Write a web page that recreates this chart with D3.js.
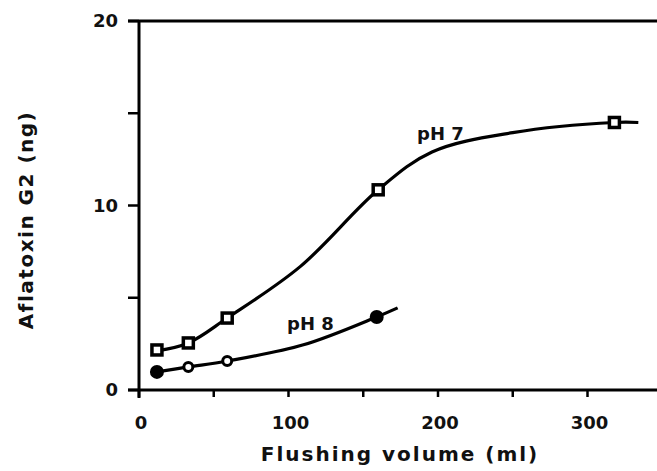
<!DOCTYPE html>
<html><head><meta charset="utf-8">
<script src="https://cdn.jsdelivr.net/npm/d3@7"></script>
<style>body{margin:0;background:#fff}svg{display:block}text{font-family:"DejaVu Sans",sans-serif;font-weight:bold;fill:#111}</style>
</head><body><svg id="c" width="657" height="471"></svg>
<script>
// measured points
const ph7X = [12, 33, 59, 160, 318];
const ph7Y = [2.17, 2.55, 3.9, 10.85, 14.5];
const ph8X = [12, 33, 59, 159];
const ph8Y = [0.98, 1.25, 1.57, 3.96];
const ph8Filled = [true, false, false, true];
// fitted curves
const ph7CurveX = [12, 33, 59, 108, 160, 196, 250, 318, 334];
const ph7CurveY = [2.12, 2.55, 3.9, 6.7, 10.85, 12.9, 13.95, 14.5, 14.5];
const ph8CurveX = [12, 33, 59, 110, 159, 173];
const ph8CurveY = [0.98, 1.25, 1.57, 2.45, 3.96, 4.45];
const xTicks = [0, 100, 200, 300];
const xMinor = [50, 150, 250];
const yTicks = [0, 10, 20];
const yMinor = [5, 15];

const svg = d3.select("#c");
const x = d3.scaleLinear().domain([0, 100]).range([139, 288.5]);
const y = d3.scaleLinear().domain([0, 20]).range([390, 21]);
const xEnd = 657;

const g = svg.append("g");
g.append("line").attr("x1", 128).attr("x2", xEnd).attr("y1", y(0)).attr("y2", y(0)).attr("stroke", "#000").attr("stroke-width", 3);
g.append("line").attr("x1", 128).attr("x2", xEnd).attr("y1", y(20)).attr("y2", y(20)).attr("stroke", "#000").attr("stroke-width", 3);
g.append("line").attr("x1", x(0)).attr("x2", x(0)).attr("y1", y(20)).attr("y2", y(0) + 8).attr("stroke", "#000").attr("stroke-width", 3);

yTicks.concat(yMinor).forEach(v => {
  g.append("line").attr("x1", 128).attr("x2", x(0)).attr("y1", y(v)).attr("y2", y(v)).attr("stroke", "#000").attr("stroke-width", 2.5);
});
g.selectAll(".yl").data(yTicks).join("text").attr("x", 118).attr("y", d => y(d)).attr("dy", "0.36em")
  .attr("text-anchor", "end").attr("font-size", 18).text(d => d);
xTicks.concat(xMinor).forEach(v => {
  g.append("line").attr("x1", x(v)).attr("x2", x(v)).attr("y1", y(0)).attr("y2", y(0) + 7).attr("stroke", "#000").attr("stroke-width", 2.5);
});
g.selectAll(".xl").data(xTicks).join("text").attr("x", d => x(d) + 2).attr("y", 429)
  .attr("text-anchor", "middle").attr("font-size", 18).text(d => d);

svg.append("text").attr("x", 400).attr("y", 461).attr("text-anchor", "middle").attr("font-size", 20)
  .attr("letter-spacing", 2).text("Flushing volume (ml)");
svg.append("text").attr("transform", "translate(33,220) rotate(-90)").attr("text-anchor", "middle")
  .attr("font-size", 20).attr("letter-spacing", 1.5).text("Aflatoxin G2 (ng)");

const line = d3.line().x(d => x(d[0])).y(d => y(d[1])).curve(d3.curveCatmullRom.alpha(0.5));
svg.append("path").datum(d3.zip(ph7CurveX, ph7CurveY)).attr("d", line).attr("fill", "none").attr("stroke", "#000").attr("stroke-width", 3.2);
svg.append("path").datum(d3.zip(ph8CurveX, ph8CurveY)).attr("d", line).attr("fill", "none").attr("stroke", "#000").attr("stroke-width", 3.2);

svg.selectAll(".sq").data(d3.zip(ph7X, ph7Y)).join("rect")
  .attr("x", d => x(d[0]) - 5).attr("y", d => y(d[1]) - 5).attr("width", 10).attr("height", 10)
  .attr("fill", "#fff").attr("stroke", "#000").attr("stroke-width", 3.5);
svg.selectAll(".ci").data(d3.zip(ph8X, ph8Y, ph8Filled)).join("circle")
  .attr("cx", d => x(d[0])).attr("cy", d => y(d[1])).attr("r", d => d[2] ? 5.5 : 4.5)
  .attr("fill", d => d[2] ? "#000" : "#fff").attr("stroke", "#000").attr("stroke-width", 3);

svg.append("text").attr("x", 417).attr("y", 140).attr("font-size", 18).text("pH 7");
svg.append("text").attr("x", 287).attr("y", 330).attr("font-size", 18).text("pH 8");
</script></body></html>
